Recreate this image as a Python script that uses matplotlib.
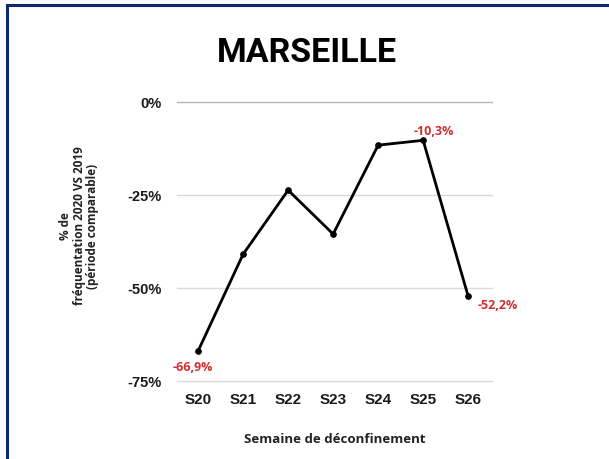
import matplotlib
matplotlib.use("Agg")
import matplotlib.pyplot as plt
from matplotlib.patches import Rectangle

# data
weeks = ["S20", "S21", "S22", "S23", "S24", "S25", "S26"]
values = [-66.9, -40.9, -23.7, -35.5, -11.6, -10.3, -52.2]
yticks = [0, -25, -50, -75]
ytick_labels = ["0%", "-25%", "-50%", "-75%"]

# labelled points: index, text, offset in points
labelled = [(0, "-66,9%", (-4, -11.5)), (5, "-10,3%", (8, 7)), (6, "-52,2%", (21, -6))]

red = "#d3302f"
navy = "#0e2a6c"
txtfont = "Open Sans"

W, H = 609, 460
fig = plt.figure(figsize=(W / 100, H / 100), dpi=100)

# page border (only top and left edges visible)
fig.patches.append(Rectangle((6.5 / W, -0.1), 1.2, 1.1 - 5.5 / H, transform=fig.transFigure,
                             fill=False, edgecolor=navy, linewidth=2.2))

ax = fig.add_axes([177 / W, 1 - 382 / H, 315 / W, 279 / H])
x = list(range(len(weeks)))

# gridlines
for t in yticks:
    ax.axhline(t, color="#b4b4b4" if t == 0 else "#dadada", lw=1.0, zorder=0, clip_on=False)

ax.plot(x, values, color="black", lw=2.0, marker="o", ms=3.8, zorder=3, clip_on=False)

for i, txt, off in labelled:
    ax.annotate(txt, (x[i], values[i]), xytext=off, textcoords="offset points",
                ha="center", va="center", color=red, fontsize=9,
                fontfamily=txtfont, fontweight="bold")

ax.set_xlim(-0.47, 6.53)
ax.set_ylim(-75, 0)
ax.set_xticks(x)
ax.set_xticklabels(weeks, fontsize=11, fontweight="bold", fontfamily="Liberation Sans")
ax.set_yticks(yticks)
ax.set_yticklabels(ytick_labels, fontsize=10.5, fontweight="bold", fontfamily="Liberation Sans")
ax.tick_params(axis="both", length=0, colors="#1a1a1a")
ax.tick_params(axis="x", pad=8)
ax.tick_params(axis="y", pad=11)
for s in ax.spines.values():
    s.set_visible(False)

ax.set_xlabel("Semaine de déconfinement", fontsize=9.5, fontfamily=txtfont,
              fontweight="bold", color="#222222", labelpad=19)

fig.text(79 / W, 1 - 226 / H, "% de\nfréquentation 2020 VS 2019\n(période comparable)",
         rotation=90, ha="center", va="center", multialignment="center",
         fontsize=8.5, fontfamily=txtfont, fontweight="bold", color="#222222", linespacing=1.05)

fig.text(307 / W, 1 - 53 / H, "MARSEILLE", ha="center", va="center",
         fontsize=24.5, fontfamily="Roboto", fontweight="bold", color="black")

fig.savefig("out.png", dpi=100)
